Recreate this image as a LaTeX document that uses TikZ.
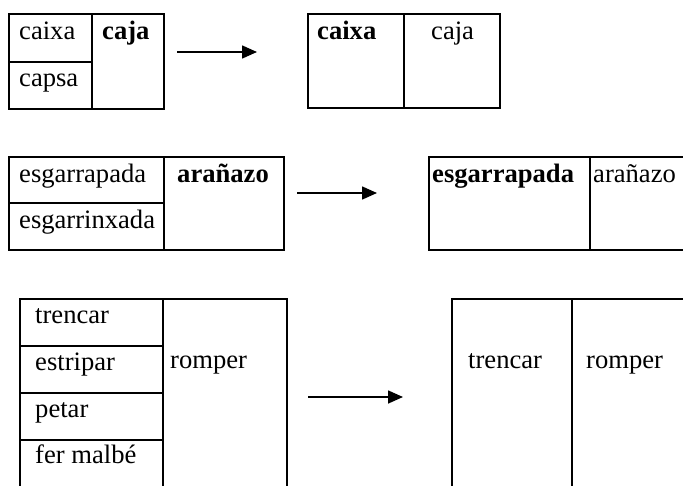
\documentclass[tikz,border=0pt]{standalone}
\usepackage{fontspec}
\setmainfont{Liberation Serif}
\usetikzlibrary{arrows.meta}
\begin{document}
\begin{tikzpicture}[x=1pt,y=-1pt,
  tbl/.style={line width=1.6pt},
  lbl/.style={anchor=base west,inner sep=0pt,font=\fontsize{26.6}{30}\selectfont},
  blbl/.style={lbl,font=\fontsize{26.6}{30}\selectfont\bfseries},
  arr/.style={line width=1.6pt,-{Triangle[length=15pt,width=13pt]}}]
\useasboundingbox (0,0) rectangle (683,485);
\fill[white] (0,0) rectangle (683,485);
% block 1 left
\draw[tbl] (9,14) rectangle (164,109);
\draw[tbl] (92,14) -- (92,109);
\draw[tbl] (9,62) -- (92,62);
\node[lbl] (t1a) at (19,39) {caixa};
\node[lbl] (t1b) at (19,86) {capsa};
\node[blbl] (t1c) at (102,39) {caja};
% arrow 1
\coordinate (a1s) at (177,52);
\coordinate (a1e) at (257,52);
\draw[arr] (a1s) -- (a1e);
% block 1 right
\draw[tbl] (308,14) rectangle (500,108);
\draw[tbl] (404,14) -- (404,108);
\node[blbl] (r1a) at (317,39) {caixa};
\node[lbl] (r1b) at (431,39) {caja};
% block 2 left
\draw[tbl] (9,157) rectangle (284,250);
\draw[tbl] (164,157) -- (164,250);
\draw[tbl] (9,203) -- (164,203);
\node[lbl] (t2a) at (19,182) {esgarrapada};
\node[lbl] (t2b) at (19,228) {esgarrinxada};
\node[blbl] (t2c) at (177,182) {arañazo};
% arrow 2
\coordinate (a2s) at (297,193);
\coordinate (a2e) at (377,193);
\draw[arr] (a2s) -- (a2e);
% block 2 right
\draw[tbl] (429,157) rectangle (700,250);
\draw[tbl] (590,157) -- (590,250);
\node[blbl] (r2a) at (432,182) {esgarrapada};
\node[lbl] (r2b) at (593,182) {arañazo};
% block 3 left
\draw[tbl] (20,500) -- (20,299) -- (287,299) -- (287,500);
\draw[tbl] (163,299) -- (163,500);
\draw[tbl] (20,346) -- (163,346);
\draw[tbl] (20,393) -- (163,393);
\draw[tbl] (20,440) -- (163,440);
\node[lbl] (t3a) at (35,323) {trencar};
\node[lbl] (t3b) at (35,370) {estripar};
\node[lbl] (t3c) at (35,417) {petar};
\node[lbl] (t3d) at (35,463) {fer malbé};
\node[lbl] (t3e) at (170,368) {romper};
% arrow 3
\coordinate (a3s) at (308,397);
\coordinate (a3e) at (403,397);
\draw[arr] (a3s) -- (a3e);
% block 3 right
\draw[tbl] (452,500) -- (452,299) -- (700,299);
\draw[tbl] (572,299) -- (572,500);
\node[lbl] (r3a) at (468,368) {trencar};
\node[lbl] (r3b) at (586,368) {romper};
\end{tikzpicture}
\end{document}
